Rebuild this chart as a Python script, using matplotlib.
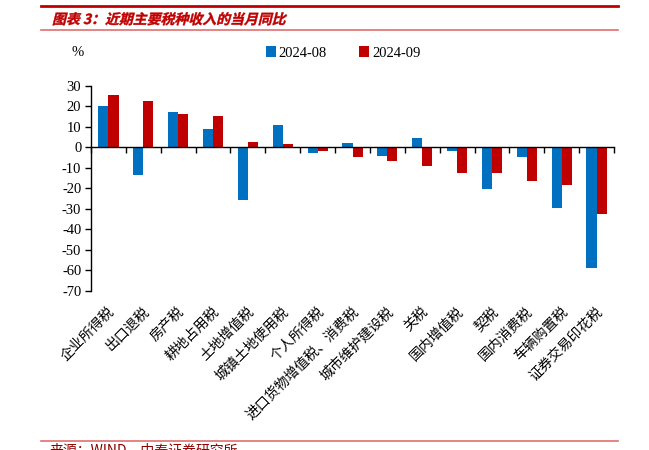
import matplotlib.pyplot as plt
import numpy as np
from matplotlib.lines import Line2D
from matplotlib.textpath import TextPath
from matplotlib.patches import PathPatch
from matplotlib.font_manager import FontProperties
from matplotlib.transforms import Affine2D, IdentityTransform

plt.rcParams['font.family'] = ['Liberation Serif', 'Noto Sans CJK SC', 'DejaVu Sans']
plt.rcParams['axes.unicode_minus'] = False

categories = ['企业所得税', '出口退税', '房产税', '耕地占用税', '土地增值税', '城镇土地使用税',
              '个人所得税', '进口货物增值税、消费税', '城市维护建设税', '关税', '国内增值税',
              '契税', '国内消费税', '车辆购置税', '证券交易印花税']
aug = [20.3, -13.5, 17.2, 9.0, -25.8, 10.9, -2.6, 2.1, -4.1, 4.4, -1.6, -20.2, -4.6, -29.6, -58.7]
sep = [25.6, 22.8, 16.4, 15.2, 2.9, 1.6, -1.8, -4.6, -6.5, -9.1, -12.2, -12.2, -16.3, -18.2, -32.2]

blue = '#0070C0'
red = '#C00000'
DPI = 100

fig = plt.figure(figsize=(6.49, 4.5), dpi=DPI)
ax = fig.add_axes([91 / 649, 1 - 291 / 450, 523 / 649, 205 / 450])

x = np.arange(len(categories))
w = 0.29
ax.bar(x - w / 2, aug, w, color=blue, label='2024-08', zorder=2)
ax.bar(x + w / 2, sep, w, color=red, label='2024-09', zorder=2)

ax.set_xlim(-0.5, len(categories) - 0.5)
ax.set_ylim(-70, 30)
ax.set_yticks(range(-70, 31, 10))
ax.tick_params(axis='y', direction='out', length=4, width=1, labelsize=10.5, pad=3)

# x axis sits at zero, ticks between categories
ax.spines['bottom'].set_position(('data', 0))
ax.spines['top'].set_visible(False)
ax.spines['right'].set_visible(False)
ax.spines['left'].set_linewidth(1)
ax.spines['bottom'].set_linewidth(1)
ax.set_xticks(np.arange(-0.5, len(categories)), minor=True)
ax.set_xticks([])
ax.tick_params(axis='x', which='minor', direction='out', length=4, width=1)

# category names under the plot
trans = ax.get_xaxis_transform()
for i, name in enumerate(categories):
    ax.text(i - 0.03, -0.065, name, transform=trans, rotation=45, rotation_mode='anchor',
            ha='right', va='top', fontsize=10, family=['Noto Sans CJK SC', 'DejaVu Sans'])

fig.legend(loc='center', bbox_to_anchor=(343 / 649, 1 - 53 / 450), ncol=2, frameon=False,
           fontsize=10.5, handlelength=0.7, handleheight=0.7, handletextpad=0.2,
           columnspacing=2.2)
fig.text(78 / 649, 1 - 53 / 450, '%', ha='center', va='center', fontsize=10.5)

# header and footer
fig.add_artist(Line2D([41 / 649, 618 / 649], [1 - 6 / 450] * 2, color='#C00000', lw=2))
fig.add_artist(Line2D([41 / 649, 618 / 649], [1 - 30 / 450] * 2, color='#E07070', lw=1.2))
fig.add_artist(Line2D([41 / 649, 618 / 649], [1 - 441 / 450] * 2, color='#E07070', lw=1.2))

# italic title: skew the glyph outlines
title_font = FontProperties(family='Noto Sans CJK SC', weight='bold', size=10)
tp = TextPath((0, 0), '图表 3：近期主要税种收入的当月同比', prop=title_font)
title_tf = Affine2D().skew_deg(14, 0).scale(DPI / 72).translate(52, 450 - 24)
fig.add_artist(PathPatch(tp, transform=title_tf + IdentityTransform(), color='#C00000', lw=0.3))

fig.text(50 / 649, 1 - 443 / 450, '来源：WIND，中泰证券研究所', ha='left', va='top',
         fontsize=10, color='#8B0000', family=['Noto Sans CJK SC', 'DejaVu Sans'])

fig.savefig('out.png', dpi=DPI)
